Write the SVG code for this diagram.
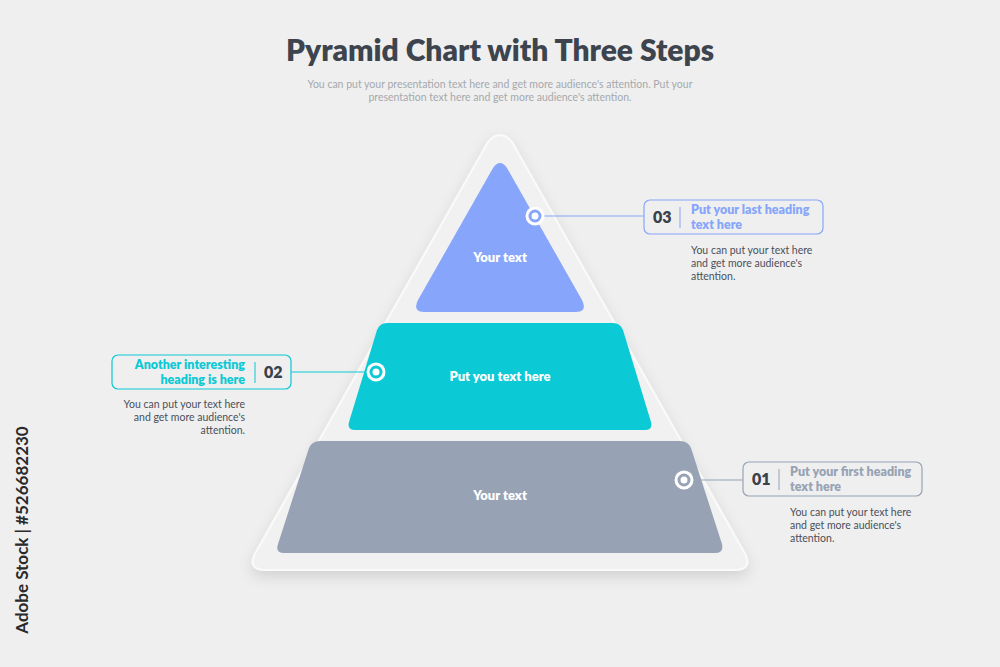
<svg xmlns="http://www.w3.org/2000/svg" width="1000" height="667" viewBox="0 0 1000 667">
<defs>
<style>
.t{font-family:"Lato","Liberation Sans",sans-serif}
.h{font-weight:800;font-size:12.5px}
.n{font-weight:800;font-size:16px;fill:#3a414b}
.b{font-size:10.5px;fill:#4a505a}
.w{font-weight:800;font-size:13px;fill:#fff}
.ring{fill:#fff;stroke-width:3}
</style>
<filter id="sh" x="-20%" y="-20%" width="140%" height="140%"><feDropShadow dx="0" dy="6" stdDeviation="7" flood-color="#000" flood-opacity="0.12"/></filter>
</defs>
<rect width="1000" height="667" fill="#efefef"/>
<text class="t" x="500" y="61" text-anchor="middle" font-size="30" font-weight="800" fill="#3d444e">Pyramid Chart with Three Steps</text>
<text class="t" x="500" y="88" text-anchor="middle" font-size="10.5" fill="#a5a9ae">You can put your presentation text here and get more audience's attention. Put your</text>
<text class="t" x="500" y="101" text-anchor="middle" font-size="10.5" fill="#a5a9ae">presentation text here and get more audience's attention.</text>
<text class="t" transform="translate(28,530) rotate(-90)" text-anchor="middle" font-size="17" font-weight="700" fill="#2a2a2a">Adobe Stock | #526682230</text>
<g id="frame"><path d="M488,142 Q500,128 512,142 L744,552 Q754,570 734,570 L266,570 Q246,570 256,552 Z" fill="#f1f1f1" stroke="#fafafa" stroke-width="2" filter="url(#sh)"/></g>
<g id="step3"><path d="M493,168 Q500,158 507,168 L582,300 Q588,312 575,312 L425,312 Q412,312 418,300 Z" fill="#87a6fb"/><text class="t w" x="500" y="262" text-anchor="middle">Your text</text></g>
<g id="step2"><path d="M387,323 L613,323 Q620,323 623,330 L651,422 Q653,430 645,430 L355,430 Q347,430 349,422 L377,330 Q380,323 387,323 Z" fill="#0bc9d5"/><text class="t w" x="500" y="381" text-anchor="middle">Put you text here</text></g>
<g id="step1"><path d="M320,441 L680,441 Q688,441 691,448 L722,544 Q724,553 715,553 L284,553 Q275,553 278,544 L309,448 Q312,441 320,441 Z" fill="#97a3b5"/><text class="t w" x="500" y="500" text-anchor="middle">Your text</text></g>
<g id="connectors" fill="none">
<line x1="541" y1="216" x2="644" y2="216" stroke="#87a6fb" stroke-width="1.2"/>
<line x1="291" y1="372" x2="370" y2="372" stroke="#0bc9d5" stroke-width="1.2"/>
<line x1="690" y1="480" x2="743" y2="480" stroke="#97a3b5" stroke-width="1.2"/>
<circle cx="535" cy="216" r="9.5" fill="#fff"/><circle class="ring" cx="535" cy="216" r="5" stroke="#87a6fb"/>
<circle cx="376" cy="372" r="9.5" fill="#fff"/><circle class="ring" cx="376" cy="372" r="5" stroke="#0bc9d5"/>
<circle cx="684" cy="480" r="9.5" fill="#fff"/><circle class="ring" cx="684" cy="480" r="5" stroke="#97a3b5"/>
</g>
<g id="callout3">
<rect x="644" y="200" width="179" height="34" rx="6" fill="none" stroke="#87a6fb" stroke-width="1.2"/>
<text class="t n" x="653" y="223">03</text>
<line x1="680" y1="207" x2="680" y2="228" stroke="#87a6fb"/>
<text class="t h" x="691" y="214" fill="#87a6fb">Put your last heading</text>
<text class="t h" x="691" y="229" fill="#87a6fb">text here</text>
<text class="t b" x="691" y="254">You can put your text here</text>
<text class="t b" x="691" y="267">and get more audience's</text>
<text class="t b" x="691" y="280">attention.</text>
</g>
<g id="callout2">
<rect x="112" y="355" width="179" height="34" rx="6" fill="none" stroke="#0bc9d5" stroke-width="1.2"/>
<text class="t h" x="245" y="369" text-anchor="end" fill="#0bc9d5">Another interesting</text>
<text class="t h" x="245" y="384" text-anchor="end" fill="#0bc9d5">heading is here</text>
<line x1="255" y1="362" x2="255" y2="383" stroke="#0bc9d5"/>
<text class="t n" x="264" y="378">02</text>
<text class="t b" x="245" y="408" text-anchor="end">You can put your text here</text>
<text class="t b" x="245" y="421" text-anchor="end">and get more audience's</text>
<text class="t b" x="245" y="434" text-anchor="end">attention.</text>
</g>
<g id="callout1">
<rect x="743" y="462" width="179" height="34" rx="6" fill="none" stroke="#97a3b5" stroke-width="1.2"/>
<text class="t n" x="752" y="485">01</text>
<line x1="779" y1="469" x2="779" y2="490" stroke="#97a3b5"/>
<text class="t h" x="790" y="476" fill="#97a3b5">Put your first heading</text>
<text class="t h" x="790" y="491" fill="#97a3b5">text here</text>
<text class="t b" x="790" y="516">You can put your text here</text>
<text class="t b" x="790" y="529">and get more audience's</text>
<text class="t b" x="790" y="542">attention.</text>
</g>
</svg>
